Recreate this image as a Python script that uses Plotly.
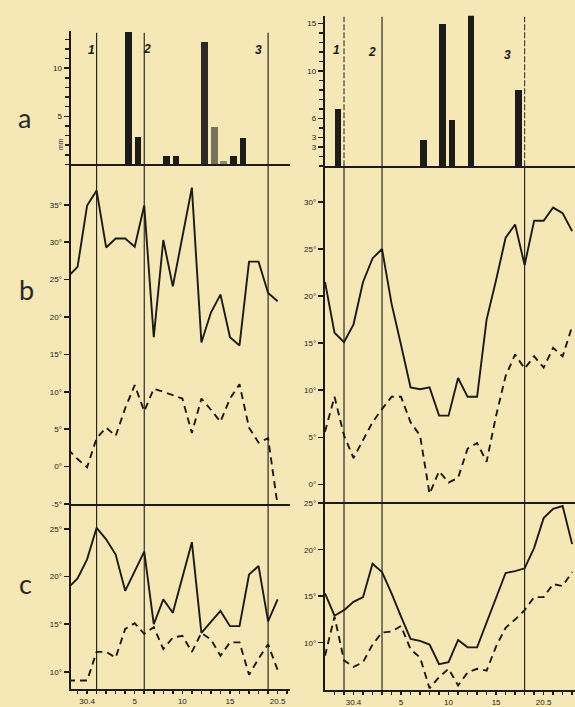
import plotly.graph_objects as go

W, H = 575, 707

# ---------------- data ----------------
# Left column: day index 0 = 28 April ... 22 = 20 May
left_days = list(range(23))
left_b_max = [25.4, 26.7, 34.9, 36.9, 29.3, 30.5, 30.5, 29.4, 34.9, 17.3, 30.3, 24.1,
              30.7, 37.3, 16.6, 20.6, 23.0, 17.3, 16.2, 27.4, 27.4, 23.2, 22.1]
left_b_min = [2.3, 1.0, -0.1, 3.8, 5.2, 4.1, 7.8, 10.9, 7.4, 10.4, 10.0, 9.6,
              9.1, 4.5, 9.1, 7.6, 6.0, 9.1, 11.0, 5.2, 3.2, 3.8, -5.2]
left_c_max = [18.8, 19.8, 21.8, 25.1, 23.9, 22.3, 18.5, 20.5, 22.6, 15.0, 17.6, 16.2,
              19.9, 23.6, 14.1, 15.3, 16.4, 14.8, 14.8, 20.2, 21.1, 15.3, 17.6]
left_c_min = [9.1, 9.1, 9.1, 12.1, 12.1, 11.5, 14.5, 15.1, 14.0, 14.7, 12.4, 13.6,
              13.8, 12.1, 14.1, 13.4, 11.7, 13.1, 13.1, 9.7, 11.4, 12.9, 10.2]
left_bar_days = [6, 7, 10, 11, 14, 15, 16, 17, 18]
left_bar_mm = [13.8, 2.9, 0.9, 0.9, 12.7, 3.9, 0.4, 0.9, 2.8]
left_phase_days = [3, 8, 21]
left_tick_days = [2, 7, 12, 17, 22]

# Right column: day index 0 = 27 April ... 26 = 23 May
right_days = list(range(27))
right_b_max = [21.5, 16.1, 15.1, 17.0, 21.5, 24.0, 25.0, 19.2, 14.8, 10.3, 10.1, 10.3,
               7.3, 7.3, 11.3, 9.3, 9.3, 17.5, 21.7, 26.2, 27.6, 23.3, 28.0, 28.0, 29.4, 28.8, 26.9]
right_b_min = [5.6, 9.3, 5.2, 2.8, 4.7, 6.6, 8.0, 9.3, 9.3, 6.6, 5.2, -1.0,
               1.4, 0.2, 0.7, 3.8, 4.4, 2.4, 7.3, 11.5, 13.8, 12.3, 13.6, 12.4, 14.5, 13.6, 16.8]
right_c_max = [15.3, 12.9, 13.5, 14.4, 14.9, 18.5, 17.6, 15.3, 12.8, 10.4, 10.2, 9.8,
               7.7, 7.9, 10.3, 9.5, 9.5, 12.1, 14.9, 17.5, 17.7, 18.0, 20.2, 23.4, 24.4, 24.7, 20.6]
right_c_min = [8.6, 12.8, 8.1, 7.4, 7.9, 9.8, 11.1, 11.2, 11.8, 9.3, 8.4, 5.1,
               6.3, 7.2, 5.4, 6.8, 7.2, 7.0, 9.6, 11.6, 12.5, 13.5, 14.9, 14.9, 16.3, 16.1, 17.6]
right_bar_days = [1, 10, 12, 13, 15, 20]
right_bar_mm = [6.0, 2.7, 14.9, 4.9, 15.9, 8.0]
right_phase_days = [2, 6, 21]
right_tick_days = [3, 8, 13, 18, 23]

date_tick_text = ["30.4", "5", "10", "15", "20.5"]
phase_names = ["1", "2", "3"]
panel_letters = ["a", "b", "c"]

left_a_ticks = [5, 10]
left_a_text = ["5", "10"]
right_a_ticks = [2, 3, 5, 10, 15]
right_a_text = ["3", "3", "6", "10", "15"]
left_b_ticks = [-5, 0, 5, 10, 15, 20, 25, 30, 35]
right_b_ticks = [0, 5, 10, 15, 20, 25, 30]
c_ticks = [10, 15, 20, 25]

# ---------------- style ----------------
BG = "#f5e7b6"
INK = "#1d1b17"
FONT = "Liberation Sans"


def px_x(p):
    return p / W


def px_y(p):
    return 1 - p / H


fig = go.Figure()


def add_curve(x, y, ax, dash):
    fig.add_trace(go.Scatter(
        x=x, y=y, xaxis="x" + ax, yaxis="y" + ax, mode="lines",
        line=dict(color=INK, width=1.9, dash=dash),
        showlegend=False, hoverinfo="skip"))


def add_bars(days, vals, ax, colors):
    fig.add_trace(go.Bar(
        x=[d + 0.35 for d in days], y=vals, width=0.7,
        xaxis="x" + ax, yaxis="y" + ax,
        marker=dict(color=colors, line=dict(width=0)),
        showlegend=False, hoverinfo="skip"))


DASH = "7px,5px"
add_bars(left_bar_days, left_bar_mm, "", [INK, INK, INK, INK, "#2c2a22", "#76725c", "#8c8872", INK, INK])
add_curve(left_days, left_b_max, "2", "solid")
add_curve(left_days, left_b_min, "2", DASH)
add_curve(left_days, left_c_max, "3", "solid")
add_curve(left_days, left_c_min, "3", DASH)
add_bars(right_bar_days, right_bar_mm, "4", [INK] * len(right_bar_days))
add_curve(right_days, right_b_max, "5", "solid")
add_curve(right_days, right_b_min, "5", DASH)
add_curve(right_days, right_c_max, "6", "solid")
add_curve(right_days, right_c_min, "6", DASH)

tickfont = dict(family=FONT, size=8, color=INK)

L_DOM = [px_x(70.7), px_x(290)]
R_DOM = [px_x(325), 1.0]
L_RANGE = [0.28, 23.3]
R_RANGE = [0.0, 26.3]


def xaxis(dom, rng, anchor, bottom=False, tickdays=None):
    d = dict(domain=dom, range=rng, anchor=anchor, showline=True, linecolor=INK,
             linewidth=2, showgrid=False, zeroline=False, fixedrange=True)
    if bottom:
        allticks = list(range(int(rng[0]) + 1, int(rng[1]) + 1))
        d.update(tickmode="array", tickvals=allticks,
                 ticktext=[date_tick_text[tickdays.index(t)] if t in tickdays else "" for t in allticks],
                 ticks="outside", ticklen=3, tickwidth=1.5, tickcolor=INK,
                 tickfont=dict(family=FONT, size=8, color=INK), showticklabels=True)
    else:
        d.update(ticks="", showticklabels=False)
    return d


def yaxis(dom, rng, anchor, tickvals, ticktext, minor_step=None):
    d = dict(domain=dom, range=rng, anchor=anchor, showline=True, linecolor=INK,
             linewidth=2.2, showgrid=False, zeroline=False, fixedrange=True,
             tickmode="array", tickvals=tickvals, ticktext=ticktext,
             ticks="outside", ticklen=5, tickwidth=1.5, tickcolor=INK,
             tickfont=tickfont)
    if minor_step:
        d["minor"] = dict(tickmode="linear", tick0=0, dtick=minor_step, ticks="outside",
                          ticklen=4, tickwidth=1.5, tickcolor=INK)
    return d


deg = lambda v: f"{v}°"

fig.update_layout(
    width=W, height=H, margin=dict(l=0, r=0, t=0, b=0),
    paper_bgcolor=BG, plot_bgcolor="rgba(0,0,0,0)", bargap=0,
    xaxis=xaxis(L_DOM, L_RANGE, "y"),
    yaxis=yaxis([px_y(163.3), px_y(28)], [0, 13.9], "x", left_a_ticks, left_a_text, 1),
    xaxis2=xaxis(L_DOM, L_RANGE, "y2"),
    yaxis2=yaxis([px_y(506.7), px_y(163.3)], [-5, 40.4], "x2", left_b_ticks, [deg(v) for v in left_b_ticks]),
    xaxis3=xaxis(L_DOM, L_RANGE, "y3", bottom=True, tickdays=left_tick_days),
    yaxis3=yaxis([px_y(694), px_y(506.7)], [8.2, 27.6], "x3", c_ticks, [deg(v) for v in c_ticks]),
    xaxis4=xaxis(R_DOM, R_RANGE, "y4"),
    yaxis4=yaxis([px_y(165), px_y(13)], [0, 15.8], "x4", right_a_ticks, right_a_text, 1),
    xaxis5=xaxis(R_DOM, R_RANGE, "y5"),
    yaxis5=yaxis([px_y(505), px_y(165)], [-1.9, 33.8], "x5", right_b_ticks, [deg(v) for v in right_b_ticks]),
    xaxis6=xaxis(R_DOM, R_RANGE, "y6", bottom=True, tickdays=right_tick_days),
    yaxis6=yaxis([px_y(695), px_y(505)], [4.9, 25.1], "x6", c_ticks, [deg(v) for v in c_ticks]),
)

# phase boundary lines
shapes = []
for d in left_phase_days:
    shapes.append(dict(type="line", xref="x2", yref="paper", x0=d, x1=d,
                       y0=px_y(694), y1=px_y(30), line=dict(color=INK, width=1.1)))
for i, d in enumerate(right_phase_days):
    shapes.append(dict(type="line", xref="x5", yref="paper", x0=d, x1=d,
                       y0=px_y(695), y1=px_y(165), line=dict(color=INK, width=1.1)))
    shapes.append(dict(type="line", xref="x5", yref="paper", x0=d, x1=d,
                       y0=px_y(165), y1=px_y(14),
                       line=dict(color=INK if i == 1 else "#3a362c", width=1.1,
                                 dash="solid" if i == 1 else "6px,2px")))
fig.update_layout(shapes=shapes)

ann = []
phase_pos_left = [(86, 38), (141, 37), (258, 38)]
phase_pos_right = [(336, 38), (372, 40), (513, 43)]
for poss in (phase_pos_left, phase_pos_right):
    for name, (x, y) in zip(phase_names, poss):
        ann.append(dict(text=f"<b><i>{name}</i></b>", x=px_x(x), y=px_y(y), xref="paper", yref="paper",
                        showarrow=False, font=dict(family=FONT, size=12, color=INK)))
for letter, (x, y) in zip(panel_letters, [(16, 97), (17, 290), (17, 606)]):
    ann.append(dict(text=letter, x=px_x(x), y=px_y(y), xref="paper", yref="paper",
                    showarrow=False, font=dict(family="Lato", size=27, color="#2a2824")))
ann.append(dict(text="mm", x=px_x(55), y=px_y(135), xref="paper", yref="paper", showarrow=False,
                textangle=-90, font=dict(family=FONT, size=7, color=INK)))
fig.update_layout(annotations=ann)

fig.write_html("out.html", config={"displayModeBar": False, "staticPlot": True},
               post_script="document.body.style.margin='0';document.body.style.overflow='hidden';")
